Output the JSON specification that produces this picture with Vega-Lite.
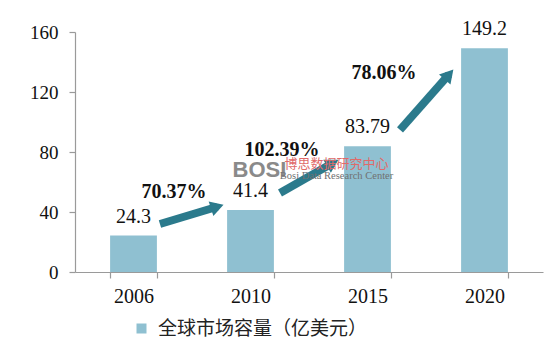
{
  "$schema": "https://vega.github.io/schema/vega-lite/v6.json",
  "width": 468,
  "height": 240,
  "autosize": "none",
  "padding": {"left": 75, "top": 32, "right": 13, "bottom": 85},
  "background": "white",
  "config": {
    "view": {"stroke": null},
    "font": "Liberation Serif",
    "axis": {"domainColor": "#9a9a9a", "tickColor": "#9a9a9a", "domainWidth": 1.2, "tickWidth": 1.2}
  },
  "layer": [
    {
      "data": {
        "values": [
          {"year": "2006", "value": 24.3, "label": "24.3", "series": "全球市场容量（亿美元）"},
          {"year": "2010", "value": 41.4, "label": "41.4", "series": "全球市场容量（亿美元）"},
          {"year": "2015", "value": 83.79, "label": "83.79", "series": "全球市场容量（亿美元）"},
          {"year": "2020", "value": 149.2, "label": "149.2", "series": "全球市场容量（亿美元）"}
        ]
      },
      "encoding": {
        "x": {
          "field": "year",
          "type": "nominal",
          "sort": null,
          "scale": {"paddingInner": 0.6, "paddingOuter": 0.3},
          "axis": {
            "title": null,
            "labelAngle": 0,
            "labelFont": "Liberation Serif",
            "labelFontSize": 20,
            "labelColor": "#111",
            "labelPadding": 8,
            "domain": true,
            "ticks": true,
            "tickSize": 6,
            "tickBand": "extent"
          }
        },
        "y": {
          "field": "value",
          "type": "quantitative",
          "scale": {"domain": [0, 160], "nice": false},
          "axis": {
            "title": null,
            "values": [0, 40, 80, 120, 160],
            "grid": false,
            "domain": true,
            "labelFont": "Liberation Serif",
            "labelFontSize": 19,
            "labelColor": "#111",
            "labelPadding": 11,
            "tickSize": 6
          }
        }
      },
      "layer": [
        {
          "mark": {"type": "bar"},
          "encoding": {
            "color": {
              "field": "series",
              "type": "nominal",
              "scale": {"range": ["#8fc0d1"]},
              "legend": {
                "title": null,
                "orient": "none",
                "legendX": 57,
                "legendY": 287,
                "symbolType": "square",
                "symbolSize": 100,
                "symbolStrokeWidth": 0,
                "labelFont": "Noto Sans CJK SC",
                "labelFontSize": 19,
                "labelColor": "#222",
                "labelOffset": 7,
                "labelLimit": 500
              }
            }
          }
        },
        {
          "mark": {"type": "text", "dy": -19, "baseline": "middle", "align": "center", "font": "Liberation Serif", "fontSize": 20, "color": "#111"},
          "encoding": {"text": {"field": "label", "type": "nominal"}}
        }
      ]
    },
    {
      "data": {
        "values": [
          {"arrow": 1, "x0": 0.726, "y0": 32.0, "x1": 1.216, "y1": 43.5, "pct": "70.37%", "px": 0.846, "py": 53.3},
          {"arrow": 2, "x0": 1.752, "y0": 52.7, "x1": 2.203, "y1": 72.7, "pct": "102.39%", "px": 1.769, "py": 81.3},
          {"arrow": 3, "x0": 2.778, "y0": 94.7, "x1": 3.197, "y1": 131.7, "pct": "78.06%", "px": 2.641, "py": 132.7}
        ]
      },
      "layer": [
        {
          "mark": {"type": "rule", "strokeWidth": 8, "color": "#2b7a8c", "strokeCap": "butt"},
          "encoding": {
            "x": {"field": "x0", "type": "quantitative", "scale": {"domain": [0, 4], "nice": false, "zero": false}, "axis": null},
            "x2": {"field": "x1"},
            "y": {"field": "y0", "type": "quantitative", "axis": {"title": null}},
            "y2": {"field": "y1"}
          }
        },
        {
          "mark": {"type": "point", "shape": "triangle-up", "filled": true, "size": 230, "color": "#2b7a8c", "opacity": 1},
          "encoding": {
            "x": {"field": "x1", "type": "quantitative", "scale": {"domain": [0, 4], "nice": false, "zero": false}, "axis": null},
            "y": {"field": "y1", "type": "quantitative", "axis": {"title": null}},
            "angle": {
              "condition": [
                {"test": "datum.arrow === 1", "value": 72},
                {"test": "datum.arrow === 2", "value": 60}
              ],
              "value": 41
            }
          }
        },
        {
          "mark": {"type": "text", "font": "Liberation Serif", "fontSize": 20, "fontWeight": "bold", "color": "#111", "baseline": "middle", "align": "center"},
          "encoding": {
            "x": {"field": "px", "type": "quantitative", "scale": {"domain": [0, 4], "nice": false, "zero": false}, "axis": null},
            "y": {"field": "py", "type": "quantitative", "axis": {"title": null}},
            "text": {"field": "pct", "type": "nominal"}
          }
        }
      ]
    },
    {
      "data": {
        "values": [
          {"t": "BOSI", "tx": 1.577, "ty": 68.0, "kind": "logo"},
          {"t": "博思数据研究中心", "tx": 2.235, "ty": 72.0, "kind": "cn"},
          {"t": "Bosi Data Research Center", "tx": 2.235, "ty": 64.0, "kind": "en"}
        ]
      },
      "encoding": {
        "x": {"field": "tx", "type": "quantitative", "scale": {"domain": [0, 4], "nice": false, "zero": false}, "axis": null},
        "y": {"field": "ty", "type": "quantitative", "axis": {"title": null}},
        "text": {"field": "t", "type": "nominal"}
      },
      "layer": [
        {
          "transform": [{"filter": "datum.kind === 'logo'"}],
          "mark": {"type": "text", "baseline": "middle", "align": "center", "font": "Liberation Sans", "fontSize": 22, "fontWeight": "bold", "color": "#8a8a8a"}
        },
        {
          "transform": [{"filter": "datum.kind === 'cn'"}],
          "mark": {"type": "text", "baseline": "middle", "align": "center", "font": "Noto Sans CJK SC", "fontSize": 13, "color": "#e06a6a"}
        },
        {
          "transform": [{"filter": "datum.kind === 'en'"}],
          "mark": {"type": "text", "baseline": "middle", "align": "center", "font": "Liberation Sans Narrow", "fontSize": 10.5, "color": "#707070"}
        }
      ]
    }
  ],
  "resolve": {"scale": {"x": "independent"}}
}
